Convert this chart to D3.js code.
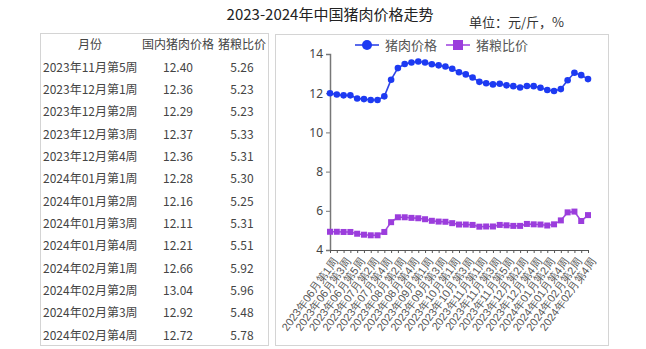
<!DOCTYPE html>
<html>
<head>
<meta charset="utf-8">
<script src="https://cdn.jsdelivr.net/npm/d3@7"></script>
<style>
  html, body { margin: 0; padding: 0; background: #fff; }
  svg { display: block; font-family: "Noto Sans CJK SC", "Noto Sans", sans-serif; }
</style>
</head>
<body>
<svg id="chart" width="646" height="349"></svg>
<script>
// Weekly categories, 2023-06 week 1 through 2024-02 week 4
const weeks = [
  "2023年06月第1周","2023年06月第2周","2023年06月第3周","2023年06月第4周","2023年06月第5周",
  "2023年07月第1周","2023年07月第2周","2023年07月第3周","2023年07月第4周",
  "2023年08月第1周","2023年08月第2周","2023年08月第3周","2023年08月第4周","2023年08月第5周",
  "2023年09月第1周","2023年09月第2周","2023年09月第3周","2023年09月第4周",
  "2023年10月第1周","2023年10月第2周","2023年10月第3周","2023年10月第4周",
  "2023年11月第1周","2023年11月第2周","2023年11月第3周","2023年11月第4周","2023年11月第5周",
  "2023年12月第1周","2023年12月第2周","2023年12月第3周","2023年12月第4周",
  "2024年01月第1周","2024年01月第2周","2024年01月第3周","2024年01月第4周",
  "2024年02月第1周","2024年02月第2周","2024年02月第3周","2024年02月第4周"
];

// Domestic pork price (元/斤)
const porkPrice = [
  12.00, 11.93, 11.89, 11.89, 11.73, 11.70, 11.65, 11.65, 11.84, 12.69,
  13.28, 13.49, 13.57, 13.62, 13.57, 13.48, 13.42, 13.36, 13.25, 13.07,
  12.96, 12.80, 12.58, 12.51, 12.45, 12.48, 12.40, 12.36, 12.29, 12.37,
  12.36, 12.28, 12.16, 12.11, 12.21, 12.66, 13.04, 12.92, 12.72
];

// Hog-to-grain price ratio
const hogGrainRatio = [
  4.93, 4.93, 4.92, 4.92, 4.83, 4.78, 4.75, 4.75, 4.92, 5.42,
  5.67, 5.67, 5.64, 5.62, 5.57, 5.49, 5.45, 5.44, 5.37, 5.30,
  5.30, 5.28, 5.19, 5.20, 5.20, 5.28, 5.26, 5.23, 5.23, 5.33,
  5.31, 5.30, 5.25, 5.31, 5.51, 5.92, 5.96, 5.48, 5.78
];

const yTicks = [4, 6, 8, 10, 12, 14];
const seriesNames = ["猪肉价格", "猪粮比价"];
const tableHeader = ["月份", "国内猪肉价格", "猪粮比价"];
const tableRowCount = 13;

const svg = d3.select("#chart");

// Title and unit note
svg.append("text")
  .attr("x", 330).attr("y", 20)
  .attr("text-anchor", "middle")
  .attr("font-size", 15).attr("fill", "#222")
  .text("2023-2024年中国猪肉价格走势");

svg.append("text")
  .attr("x", 469).attr("y", 27)
  .attr("font-size", 13).attr("fill", "#333")
  .text("单位：元/斤，%");

// ---- Table panel ----
svg.append("rect")
  .attr("x", 40.5).attr("y", 33.5).attr("width", 228).attr("height", 312)
  .attr("fill", "#fff").attr("stroke", "#d4d4d4");

const rowY = i => 45 + i * 22.35;
const colX = [90, 178, 242];
svg.selectAll(".th").data(tableHeader).join("text")
  .attr("class", "th")
  .attr("x", (d, i) => colX[i]).attr("y", rowY(0))
  .attr("dy", "0.35em").attr("text-anchor", "middle")
  .attr("font-size", 12).attr("fill", "#444")
  .text(d => d);

const start = weeks.length - tableRowCount;
const rows = d3.range(tableRowCount).map(i => ({
  week: weeks[start + i],
  price: porkPrice[start + i],
  ratio: hogGrainRatio[start + i]
}));

const rowG = svg.selectAll(".row").data(rows).join("g")
  .attr("class", "row")
  .attr("transform", (d, i) => `translate(0,${rowY(i + 1)})`)
  .attr("font-size", 12).attr("fill", "#444");
rowG.append("text").attr("x", 43).attr("dy", "0.35em").text(d => d.week);
rowG.append("text").attr("x", colX[1]).attr("dy", "0.35em").attr("text-anchor", "middle")
  .text(d => d.price.toFixed(2));
rowG.append("text").attr("x", colX[2]).attr("dy", "0.35em").attr("text-anchor", "middle")
  .text(d => d.ratio.toFixed(2));

// ---- Chart panel ----
svg.append("rect")
  .attr("x", 275.5).attr("y", 34.5).attr("width", 333).attr("height", 311)
  .attr("fill", "#fff").attr("stroke", "#d4d4d4");

const x = d3.scalePoint().domain(weeks).range([330, 588]).padding(0);
const y = d3.scaleLinear().domain([4, 14]).range([250, 54]);

// Y axis
const yAxis = svg.append("g")
  .attr("transform", "translate(330,0)")
  .call(d3.axisLeft(y).tickValues(yTicks).tickSize(4).tickPadding(3));
yAxis.select(".domain").attr("stroke", "#777").attr("stroke-width", 1.5);
yAxis.selectAll(".tick line").attr("stroke", "#777");
yAxis.selectAll(".tick text").attr("font-size", 12).attr("fill", "#444")
  .attr("font-family", "'Noto Sans', sans-serif");

// X axis
const xAxis = svg.append("g")
  .attr("transform", "translate(0,250)")
  .call(d3.axisBottom(x).tickSize(3).tickSizeOuter(0)
    .tickFormat((d, i) => i % 2 === 0 ? d : ""));
xAxis.select(".domain").attr("stroke", "#555").attr("stroke-width", 1.2);
xAxis.selectAll(".tick line").attr("stroke", "#555");
xAxis.selectAll(".tick text")
  .attr("font-size", 11).attr("fill", "#555")
  .attr("text-anchor", "end")
  .attr("dx", 0).attr("dy", 0)
  .attr("transform", "translate(3,8) rotate(-54)");

// Series
const series = [
  { name: seriesNames[0], values: porkPrice, color: "#2f45e6", fill: "#1d3af2", shape: "circle" },
  { name: seriesNames[1], values: hogGrainRatio, color: "#a34be0", fill: "#9b3ddc", shape: "square" }
];

const line = d3.line().x((d, i) => x(weeks[i])).y(d => y(d));

series.forEach(s => {
  svg.append("path")
    .datum(s.values)
    .attr("fill", "none").attr("stroke", s.color).attr("stroke-width", 1.6)
    .attr("d", line);
  if (s.shape === "circle") {
    svg.selectAll(null).data(s.values).join("circle")
      .attr("cx", (d, i) => x(weeks[i])).attr("cy", d => y(d)).attr("r", 3.3)
      .attr("fill", s.fill);
  } else {
    svg.selectAll(null).data(s.values).join("rect")
      .attr("x", (d, i) => x(weeks[i]) - 3).attr("y", d => y(d) - 3)
      .attr("width", 6).attr("height", 6)
      .attr("fill", s.fill);
  }
});

// Legend
const legendPos = [{ x: 355, tx: 385 }, { x: 446, tx: 476 }];
series.forEach((s, i) => {
  const g = svg.append("g").attr("transform", `translate(${legendPos[i].x},45)`);
  g.append("line").attr("x1", 0).attr("x2", 24).attr("stroke", s.color).attr("stroke-width", 1.6);
  if (s.shape === "circle") {
    g.append("circle").attr("cx", 12).attr("r", 5).attr("fill", s.fill);
  } else {
    g.append("rect").attr("x", 7).attr("y", -5).attr("width", 10).attr("height", 10).attr("fill", s.fill);
  }
  svg.append("text")
    .attr("x", legendPos[i].tx).attr("y", 45).attr("dy", "0.35em")
    .attr("font-size", 13).attr("fill", "#555")
    .text(s.name);
});
</script>
</body>
</html>
